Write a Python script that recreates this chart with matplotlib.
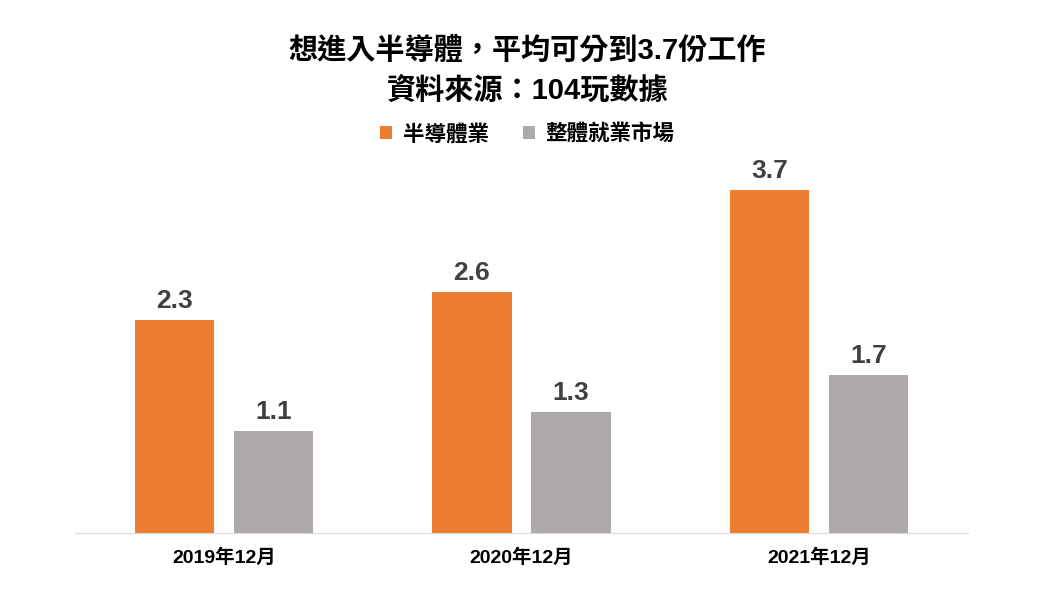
import matplotlib.pyplot as plt
import numpy as np

plt.rcParams['font.family'] = ['Liberation Sans', 'Noto Sans CJK TC']

categories = ['2019年12月', '2020年12月', '2021年12月']
semi = [2.3, 2.6, 3.7]
overall = [1.1, 1.3, 1.7]
series_names = ['半導體業', '整體就業市場']

orange = '#ED7D31'
gray = '#AEAAAA'

fig = plt.figure(figsize=(10.55, 6.11), dpi=100)
ax = fig.add_axes([0.0711, 0.1277, 0.8464, 0.607])

x = np.arange(len(categories)) + 0.5
w = 0.266
gap = 0.067
b1 = ax.bar(x - (w + gap) / 2, semi, w, color=orange, label=series_names[0])
b2 = ax.bar(x + (w + gap) / 2, overall, w, color=gray, label=series_names[1])

for bars in (b1, b2):
    for r in bars:
        ax.annotate(f'{r.get_height():.1f}', (r.get_x() + r.get_width() / 2, r.get_height()),
                    xytext=(0, 5), textcoords='offset points', ha='center', va='bottom',
                    fontsize=19, fontweight='bold', color='#404040')

ax.set_xlim(0, 3)
ax.set_ylim(0, 4)
ax.set_xticks(x)
ax.set_xticklabels(categories, fontsize=14, fontweight='bold')
ax.tick_params(axis='x', length=0, pad=11)
ax.set_yticks([])
for s in ['top', 'right', 'left']:
    ax.spines[s].set_visible(False)
ax.spines['bottom'].set_color('#D9D9D9')

fig.text(0.5, 0.917, '想進入半導體，平均可分到3.7份工作', ha='center', va='center',
         fontsize=21, fontweight='bold')
fig.text(0.5, 0.850, '資料來源：104玩數據', ha='center', va='center',
         fontsize=21, fontweight='bold')
fig.legend(loc='center', bbox_to_anchor=(0.5, 0.779), ncol=2, frameon=False,
           prop={'size': 15.5, 'weight': 'bold'}, handlelength=0.55, handleheight=0.55,
           columnspacing=1.6, handletextpad=0.5)

fig.savefig('out.png', dpi=100)
